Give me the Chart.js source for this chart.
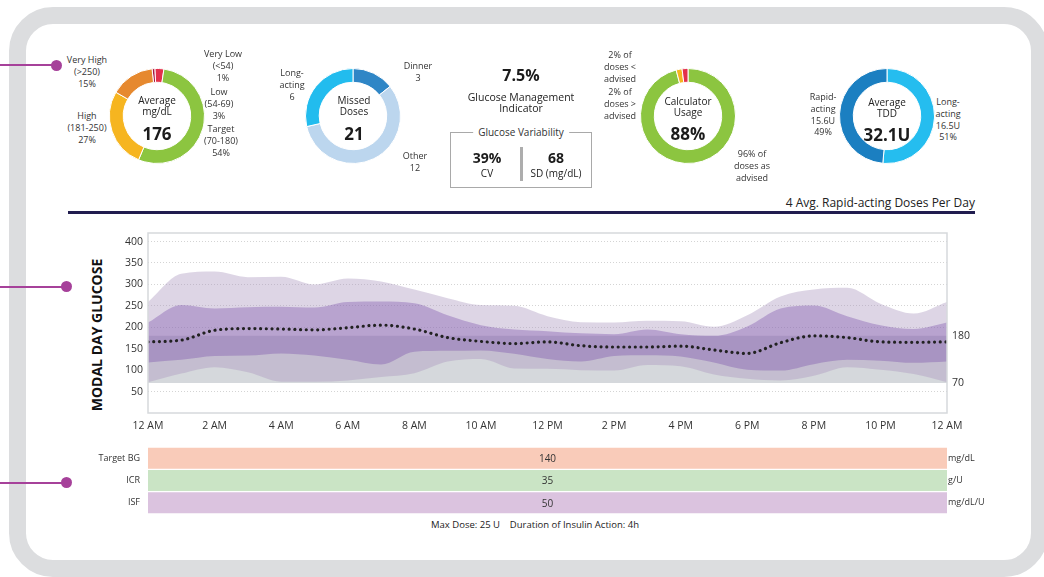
<!DOCTYPE html>
<html>
<head>
<meta charset="utf-8">
<script src="https://cdn.jsdelivr.net/npm/chart.js@4.4.1/dist/chart.umd.min.js"></script>
<style>
  html, body { margin: 0; padding: 0; background: #fff; }
  body { width: 1044px; height: 577px; position: relative; overflow: hidden;
         font-family: 'Open Sans', 'Noto Sans', sans-serif; color: #222; }
  .abs { position: absolute; }
  .frame { left: 9px; top: 7px; width: 1039px; height: 570px; box-sizing: border-box;
           border: 17px solid #dcdddf; border-radius: 44px; }
  .wire { height: 2px; background: #a6419a; left: 0; }
  .dot { width: 11px; height: 11px; border-radius: 50%; background: #a6419a; }
  .lbl { transform: translate(-50%, -50%); text-align: center; white-space: nowrap;
         font-size: 9px; line-height: 11.8px; color: #333; }
  .ctr { transform: translate(-50%, -50%); text-align: center; white-space: nowrap;
         font-size: 10px; line-height: 11px; color: #222; }
  .big { transform: translate(-50%, -50%); white-space: nowrap; font-weight: 700;
         font-size: 17px; color: #1b1b1b; }
  .donut { width: 96px; height: 96px; }
  .gv-box { left: 450px; top: 132px; width: 142px; height: 56px; border: 1px solid #a9a9a9; box-sizing: border-box; }
  .gv-title { left: 521px; top: 132px; transform: translate(-50%, -50%); background: #fff;
              padding: 0 5px; font-size: 10px; white-space: nowrap; color: #333; }
  .sep { left: 520px; top: 147px; width: 3px; height: 34px; background: #adadad; }
</style>
</head>
<body>
<div class="abs frame"></div>

<!-- connectors -->
<div class="abs wire" style="top:64px; width:57px;"></div>
<div class="abs dot" style="left:51px; top:60px;"></div>
<div class="abs wire" style="top:286px; width:67px;"></div>
<div class="abs dot" style="left:61px; top:281px;"></div>
<div class="abs wire" style="top:482px; width:67px;"></div>
<div class="abs dot" style="left:61px; top:477px;"></div>

<!-- donut 1: time in range -->
<div class="abs donut" style="left:109px; top:68px;"><canvas id="tir"></canvas></div>
<div class="abs lbl" style="left:87px; top:72px;">Very High<br>(&gt;250)<br>15%</div>
<div class="abs lbl" style="left:87px; top:128px;">High<br>(181-250)<br>27%</div>
<div class="abs lbl" style="left:223px; top:66px;">Very Low<br>(&lt;54)<br>1%</div>
<div class="abs lbl" style="left:219px; top:104px;">Low<br>(54-69)<br>3%</div>
<div class="abs lbl" style="left:221px; top:141px;">Target<br>(70-180)<br>54%</div>
<div class="abs ctr" style="left:157px; top:106px;">Average<br>mg/dL</div>
<div class="abs big" style="left:157px; top:133px;">176</div>

<!-- donut 2: missed doses -->
<div class="abs donut" style="left:305px; top:68px;"><canvas id="missed"></canvas></div>
<div class="abs lbl" style="left:292px; top:85px;">Long-<br>acting<br>6</div>
<div class="abs lbl" style="left:418px; top:72px;">Dinner<br>3</div>
<div class="abs lbl" style="left:415px; top:162px;">Other<br>12</div>
<div class="abs ctr" style="left:354px; top:106px;">Missed<br>Doses</div>
<div class="abs big" style="left:354px; top:133px;">21</div>

<!-- GMI + variability -->
<div class="abs big" style="left:521px; top:75px; font-size:16px;">7.5%</div>
<div class="abs ctr" style="left:521px; top:103px; font-size:10.5px;">Glucose Management<br>Indicator</div>
<div class="abs gv-box"></div>
<div class="abs gv-title">Glucose Variability</div>
<div class="abs sep"></div>
<div class="abs big" style="left:487px; top:157px; font-size:14px;">39%</div>
<div class="abs ctr" style="left:487px; top:173px;">CV</div>
<div class="abs big" style="left:556px; top:157px; font-size:14px;">68</div>
<div class="abs ctr" style="left:556px; top:173px;">SD (mg/dL)</div>

<!-- donut 3: calculator usage -->
<div class="abs donut" style="left:640px; top:68px;"><canvas id="calc"></canvas></div>
<div class="abs lbl" style="left:620px; top:67px;">2% of<br>doses &lt;<br>advised</div>
<div class="abs lbl" style="left:620px; top:104px;">2% of<br>doses &gt;<br>advised</div>
<div class="abs lbl" style="left:752px; top:166px;">96% of<br>doses as<br>advised</div>
<div class="abs ctr" style="left:688px; top:107px;">Calculator<br>Usage</div>
<div class="abs big" style="left:688px; top:133px;">88%</div>

<!-- donut 4: TDD -->
<div class="abs donut" style="left:839px; top:68px;"><canvas id="tdd"></canvas></div>
<div class="abs lbl" style="left:823px; top:115px;">Rapid-<br>acting<br>15.6U<br>49%</div>
<div class="abs lbl" style="left:948px; top:120px;">Long-<br>acting<br>16.5U<br>51%</div>
<div class="abs ctr" style="left:887px; top:108px;">Average<br>TDD</div>
<div class="abs big" style="left:887px; top:134px;">32.1U</div>

<div class="abs" style="right:69px; top:194px; font-size:12px; color:#222; white-space:nowrap;">4 Avg. Rapid-acting Doses Per Day</div>
<div class="abs" style="left:68px; top:211px; width:907px; height:3px; background:#211d4f;"></div>

<!-- modal day -->
<div class="abs" style="left:96px; top:335px; transform:translate(-50%,-50%) rotate(-90deg); font-weight:700; font-size:14px; white-space:nowrap; color:#111;">MODAL DAY GLUCOSE</div>
<div class="abs" style="left:84px; top:225px; width:936px; height:215px;"><canvas id="modal"></canvas></div>

<!-- settings -->
<div class="abs" style="left:84px; top:447px; width:936px; height:67px;"><canvas id="settings"></canvas></div>
<div class="abs" style="left:535px; top:524px; transform:translate(-50%,-50%); font-size:9.5px; white-space:nowrap; color:#222;">Max Dose: 25 U&nbsp;&nbsp;&nbsp;&nbsp;Duration of Insulin Action: 4h</div>

<script>
// ---- data ----
const tirLabels = ['Very Low', 'Low', 'Target', 'High', 'Very High'];
const tirValues = [1, 3, 54, 27, 15];
const tirColors = ['#a8143c', '#e3304b', '#8cc540', '#f6b520', '#e6892f'];

const missedLabels = ['Dinner', 'Other', 'Long-acting'];
const missedValues = [3, 12, 6];
const missedColors = ['#2f86c6', '#bcd6ee', '#22bcee'];

const calcLabels = ['As advised', '> advised', '< advised'];
const calcValues = [96, 2, 2];
const calcColors = ['#8cc540', '#f6b520', '#e3304b'];

const tddLabels = ['Long-acting', 'Rapid-acting'];
const tddValues = [16.5, 15.6];
const tddColors = ['#25bdef', '#1b7fc1'];

// modal day, hourly from 12 AM to 12 AM
const hours = [0, 1, 2, 3, 4, 5, 6, 7, 8, 9, 10, 11, 12, 13, 14, 15, 16, 17, 18, 19, 20, 21, 22, 23, 24];
const p90 = [259, 325, 330, 317, 318, 300, 314, 307, 288, 268, 252, 250, 226, 212, 211, 215, 214, 201, 228, 272, 288, 292, 255, 232, 259];
const p75 = [211, 252, 244, 247, 248, 246, 259, 260, 256, 228, 205, 195, 191, 186, 184, 195, 184, 180, 202, 244, 251, 226, 205, 196, 211];
const median = [166, 170, 193, 197, 196, 194, 199, 205, 196, 176, 167, 162, 166, 157, 154, 154, 156, 147, 139, 164, 180, 176, 166, 165, 166];
const p25 = [118, 124, 133, 134, 139, 134, 124, 113, 143, 145, 146, 138, 126, 120, 133, 135, 132, 118, 101, 99, 114, 124, 122, 117, 120];
const p10 = [72, 92, 107, 95, 73, 73, 76, 84, 93, 120, 126, 104, 103, 100, 99, 112, 109, 90, 80, 76, 87, 107, 101, 91, 72];
const targetLow = 70;
const targetHigh = 180;
const yTicks = [50, 100, 150, 200, 250, 300, 350, 400];

// pump settings
const settingNames = ['Target BG', 'ICR', 'ISF'];
const settingValues = [140, 35, 50];
const settingUnits = ['mg/dL', 'g/U', 'mg/dL/U'];
const settingStart = [0, 0, 0];
const settingEnd = [24, 24, 24];
const settingColors = ['#f9cbb9', '#cae4c5', '#dbc3df'];

Chart.defaults.font.family = "'Open Sans', 'Noto Sans', sans-serif";
Chart.defaults.animation = false;
Chart.defaults.events = [];

function makeDonut(id, labels, values, colors, rotation) {
  new Chart(document.getElementById(id), {
    type: 'doughnut',
    data: { labels, datasets: [{ data: values, backgroundColor: colors, borderColor: '#fff', borderWidth: 1 }] },
    options: {
      responsive: true, maintainAspectRatio: false,
      cutout: '71%', rotation,
      layout: { padding: 0 },
      plugins: { legend: { display: false }, tooltip: { enabled: false } }
    }
  });
}

makeDonut('tir', tirLabels, tirValues, tirColors, -6);
makeDonut('missed', missedLabels, missedValues, missedColors, 0);
makeDonut('calc', calcLabels, calcValues, calcColors, 0);
makeDonut('tdd', tddLabels, tddValues, tddColors, 0);

const pts = arr => hours.map((h, i) => ({ x: h, y: arr[i] }));
const flat = v => hours.map(h => ({ x: h, y: v }));

function hourLabel(v) {
  const h = v % 24;
  const n = h % 12 === 0 ? 12 : h % 12;
  return n + (h < 12 ? ' AM' : ' PM');
}

// vertical axes: fixed width and no extra label padding, so plot edges line up
const fixWidth = w => s => { s.width = w; s.paddingTop = 0; s.paddingBottom = 0; };

// light frame round the plot area
const plotFrame = {
  id: 'plotFrame',
  afterDraw(chart) {
    const a = chart.chartArea, ctx = chart.ctx;
    ctx.save();
    ctx.strokeStyle = '#d6d9dc';
    ctx.lineWidth = 1.5;
    ctx.strokeRect(a.left, a.top, a.right - a.left, a.bottom - a.top);
    ctx.restore();
  }
};

const band = { pointRadius: 0, borderWidth: 0, cubicInterpolationMode: 'monotone' };

new Chart(document.getElementById('modal'), {
  type: 'line',
  data: {
    datasets: [
      { data: pts(median), borderColor: '#222', borderWidth: 3.2, borderDash: [0.01, 5.7],
        borderCapStyle: 'round', pointRadius: 0, cubicInterpolationMode: 'monotone', fill: false },
      { ...band, data: pts(p75), fill: '+1', backgroundColor: 'rgba(118,74,168,0.36)' },
      { ...band, data: pts(p25), fill: false },
      { ...band, data: pts(p90), fill: '+1', backgroundColor: 'rgba(171,151,191,0.40)' },
      { ...band, data: pts(p10), fill: false },
      { ...band, data: flat(targetHigh), fill: '+1', backgroundColor: '#d5d8dc', tension: 0 },
      { ...band, data: flat(targetLow), fill: false, tension: 0 }
    ]
  },
  options: {
    responsive: true, maintainAspectRatio: false,
    layout: { padding: { top: 8, left: 0, right: 0, bottom: 0 } },
    plugins: { legend: { display: false }, tooltip: { enabled: false } },
    scales: {
      x: {
        type: 'linear', min: 0, max: 24,
        grid: { display: false, drawTicks: false }, border: { display: false },
        ticks: { stepSize: 2, autoSkip: false, maxRotation: 0, color: '#333', font: { size: 10.5 }, padding: 7,
                 callback: v => hourLabel(v) },
        afterFit: s => { s.height = 27; s.paddingLeft = 0; s.paddingRight = 0; }
      },
      y: {
        min: 0, max: 420,
        afterBuildTicks: s => { s.ticks = yTicks.map(v => ({ value: v })); },
        grid: { color: '#d4d4d4', lineWidth: 1, drawTicks: false },
        border: { display: false, dash: [1, 2] },
        ticks: { color: '#333', font: { size: 10.5 }, padding: 5 },
        afterFit: fixWidth(64)
      },
      yR: {
        position: 'right', min: 0, max: 420,
        afterBuildTicks: s => { s.ticks = [targetLow, targetHigh].map(v => ({ value: v })); },
        grid: { display: false, drawTicks: false }, border: { display: false },
        ticks: { color: '#333', font: { size: 10.5 }, padding: 5 },
        afterFit: fixWidth(73)
      }
    }
  },
  plugins: [plotFrame]
});

// setting values written in the middle of each row
const rowValues = {
  id: 'rowValues',
  afterDatasetsDraw(chart) {
    const ctx = chart.ctx;
    const meta = chart.getDatasetMeta(0);
    ctx.save();
    ctx.fillStyle = '#333';
    ctx.font = "10px 'Open Sans', sans-serif";
    ctx.textAlign = 'center';
    ctx.textBaseline = 'middle';
    meta.data.forEach((bar, i) => {
      ctx.fillText(String(settingValues[i]), (bar.x + bar.base) / 2, bar.y + 1);
    });
    ctx.restore();
  }
};

new Chart(document.getElementById('settings'), {
  type: 'bar',
  data: {
    labels: settingNames,
    datasets: [{
      data: settingStart.map((s, i) => [s, settingEnd[i]]),
      backgroundColor: settingColors, borderWidth: 0,
      barPercentage: 0.94, categoryPercentage: 1
    }]
  },
  options: {
    indexAxis: 'y',
    responsive: true, maintainAspectRatio: false,
    layout: { padding: 0 },
    plugins: { legend: { display: false }, tooltip: { enabled: false } },
    scales: {
      x: { type: 'linear', min: 0, max: 24, display: false },
      y: {
        grid: { display: false, drawTicks: false }, border: { display: false },
        ticks: { color: '#333', font: { size: 9 }, padding: 8 },
        afterFit: fixWidth(64)
      },
      yR: {
        type: 'category', labels: settingUnits, position: 'right', offset: true,
        grid: { display: false, drawTicks: false }, border: { display: false },
        ticks: { color: '#333', font: { size: 9 }, padding: 1 },
        afterFit: fixWidth(73)
      }
    }
  },
  plugins: [rowValues]
});
</script>
</body>
</html>
